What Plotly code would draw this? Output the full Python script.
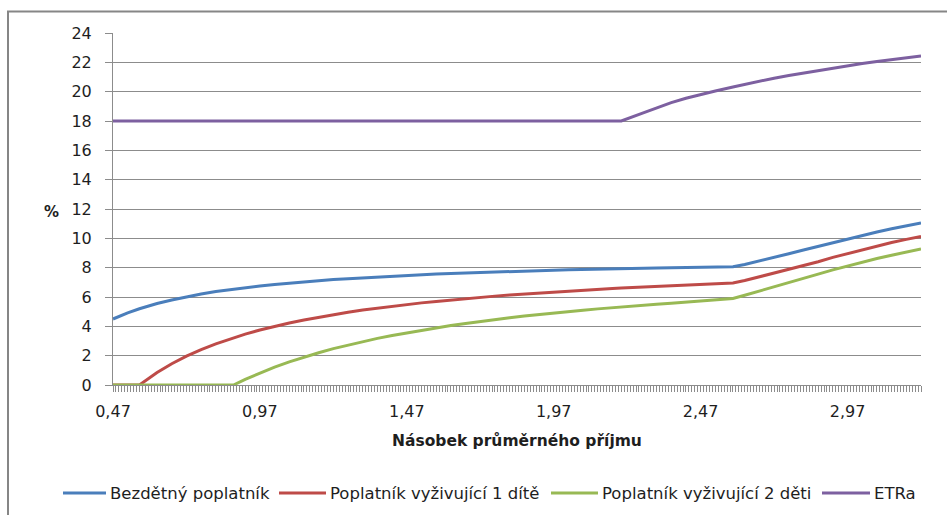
import plotly.graph_objects as go

# Násobek průměrného příjmu (income as a multiple of the average wage)
nasobek = [
    0.47, 0.52, 0.56, 0.62, 0.67, 0.72, 0.77, 0.82, 0.88, 0.92,
    0.97, 1.02, 1.07, 1.12, 1.17, 1.22, 1.27, 1.32, 1.37, 1.42,
    1.47, 1.52, 1.57, 1.62, 1.67, 1.72, 1.77, 1.82, 1.87, 1.92,
    1.97, 2.02, 2.07, 2.12, 2.17, 2.20, 2.27, 2.32, 2.37, 2.42,
    2.47, 2.52, 2.58, 2.62, 2.67, 2.72, 2.77, 2.82, 2.87, 2.92,
    2.97, 3.02, 3.07, 3.12, 3.17, 3.22,
]

# Effective tax rate in %
bezdetny = [
    4.50, 4.92, 5.20, 5.56, 5.80, 6.02, 6.20, 6.37, 6.54, 6.64,
    6.75, 6.86, 6.95, 7.04, 7.11, 7.19, 7.25, 7.31, 7.37, 7.42,
    7.47, 7.52, 7.56, 7.60, 7.64, 7.68, 7.71, 7.74, 7.77, 7.80,
    7.83, 7.85, 7.88, 7.90, 7.92, 7.94, 7.97, 7.98, 8.00, 8.02,
    8.04, 8.05, 8.07, 8.22, 8.45, 8.70, 8.95, 9.20, 9.45, 9.71,
    9.96, 10.20, 10.43, 10.65, 10.86, 11.05,
]
jedno_dite = [
    0.00, 0.00, 0.00, 0.85, 1.45, 1.97, 2.42, 2.81, 3.22, 3.47,
    3.75, 4.00, 4.23, 4.43, 4.62, 4.80, 4.96, 5.11, 5.24, 5.37,
    5.49, 5.60, 5.70, 5.80, 5.89, 5.98, 6.06, 6.14, 6.21, 6.28,
    6.35, 6.41, 6.47, 6.53, 6.58, 6.61, 6.68, 6.73, 6.77, 6.82,
    6.86, 6.90, 6.95, 7.12, 7.37, 7.62, 7.88, 8.14, 8.40, 8.70,
    8.96, 9.22, 9.48, 9.72, 9.93, 10.12,
]
dve_deti = [
    0.00, 0.00, 0.00, 0.00, 0.00, 0.00, 0.00, 0.00, 0.00, 0.39,
    0.83, 1.22, 1.58, 1.91, 2.20, 2.48, 2.73, 2.96, 3.18, 3.38,
    3.56, 3.74, 3.90, 4.05, 4.20, 4.34, 4.46, 4.58, 4.70, 4.81,
    4.91, 5.01, 5.10, 5.19, 5.28, 5.33, 5.43, 5.51, 5.58, 5.65,
    5.71, 5.78, 5.90, 6.12, 6.40, 6.67, 6.96, 7.26, 7.56, 7.85,
    8.12, 8.38, 8.63, 8.85, 9.06, 9.27,
]
etra = [
    18.00, 18.00, 18.00, 18.00, 18.00, 18.00, 18.00, 18.00, 18.00, 18.00,
    18.00, 18.00, 18.00, 18.00, 18.00, 18.00, 18.00, 18.00, 18.00, 18.00,
    18.00, 18.00, 18.00, 18.00, 18.00, 18.00, 18.00, 18.00, 18.00, 18.00,
    18.00, 18.00, 18.00, 18.00, 18.00, 18.00, 18.52, 18.90, 19.25, 19.55,
    19.82, 20.05, 20.32, 20.50, 20.72, 20.92, 21.10, 21.27, 21.43, 21.60,
    21.77, 21.92, 22.06, 22.20, 22.32, 22.43,
]

serie = [
    ("Bezdětný poplatník", bezdetny, "#4A7EBB"),
    ("Poplatník vyživující 1 dítě", jedno_dite, "#BE4B48"),
    ("Poplatník vyživující 2 děti", dve_deti, "#98B954"),
    ("ETRa", etra, "#7D60A0"),
]

W, H = 947, 515
L, R, T, B = 113, 26, 33, 130
pw, ph = W - L - R, H - T - B


def px_x(p):
    return (p - L) / pw


def px_y(p):
    return (H - B - p) / ph


fig = go.Figure()
for name, vals, col in serie:
    fig.add_trace(go.Scatter(
        x=nasobek, y=vals, name=name, mode="lines",
        line=dict(color=col, width=3),
        cliponaxis=False, showlegend=False,
    ))

grid = "#8C8C8C"
ink = "#1E1E1E"
tickfont = dict(family="DejaVu Sans", size=16, color=ink)

annotations = [
    dict(text="<b>Násobek průměrného příjmu</b>", xref="paper", yref="paper",
         x=0.5, y=px_y(440), xanchor="center", yanchor="middle",
         showarrow=False,
         font=dict(family="DejaVu Sans", size=15.5, color=ink)),
    dict(text="<b>%</b>", xref="paper", yref="paper",
         x=px_x(51), y=px_y(212), xanchor="center", yanchor="middle",
         showarrow=False,
         font=dict(family="DejaVu Sans", size=15, color=ink)),
]
shapes = [
    dict(type="path", xref="paper", yref="paper",
         path=f"M {px_x(8)},{px_y(530)} L {px_x(8)},{px_y(11.5)} L {px_x(960)},{px_y(11.5)}",
         line=dict(color="#868686", width=2)),
]

# legend row below the axis title: sample line followed by the series name
legend_y = px_y(493)
legend_slots = [(63, 106), (279, 326), (551, 598), (822, 870)]
for (name, _, col), (a, b) in zip(serie, legend_slots):
    shapes.append(dict(type="line", xref="paper", yref="paper",
                       x0=px_x(a), x1=px_x(b), y0=legend_y, y1=legend_y,
                       line=dict(color=col, width=3)))
    annotations.append(dict(text=name, xref="paper", yref="paper",
                            x=px_x(b + 2), y=legend_y,
                            xanchor="left", yanchor="middle", showarrow=False,
                            font=dict(family="DejaVu Sans", size=16.5, color=ink)))

fig.update_layout(
    width=W, height=H,
    margin=dict(l=L, r=R, t=T, b=B, pad=0, autoexpand=False),
    paper_bgcolor="white", plot_bgcolor="white",
    separators=", ",
    showlegend=False,
    xaxis=dict(
        range=[0.47, 3.22],
        tickmode="linear", tick0=0.47, dtick=0.5, tickformat=".2f",
        ticks="outside", ticklen=6, tickcolor=grid, tickwidth=1,
        minor=dict(ticks="outside", ticklen=6, tickcolor=grid,
                   tick0=0.47, dtick=0.01, tickwidth=1, showgrid=False),
        showline=True, linecolor=grid, linewidth=1,
        showgrid=False, zeroline=False,
        tickfont=tickfont, ticklabelstandoff=6,
        layer="below traces",
    ),
    yaxis=dict(
        range=[0, 24], tickmode="linear", tick0=0, dtick=2,
        ticks="outside", ticklen=7, tickcolor=grid, tickwidth=1,
        showline=True, linecolor=grid, linewidth=1,
        showgrid=True, gridcolor=grid, gridwidth=1,
        zeroline=False,
        tickfont=tickfont, ticklabelstandoff=10,
        layer="below traces",
    ),
    annotations=annotations,
    shapes=shapes,
)

fig.write_html("out.html")
